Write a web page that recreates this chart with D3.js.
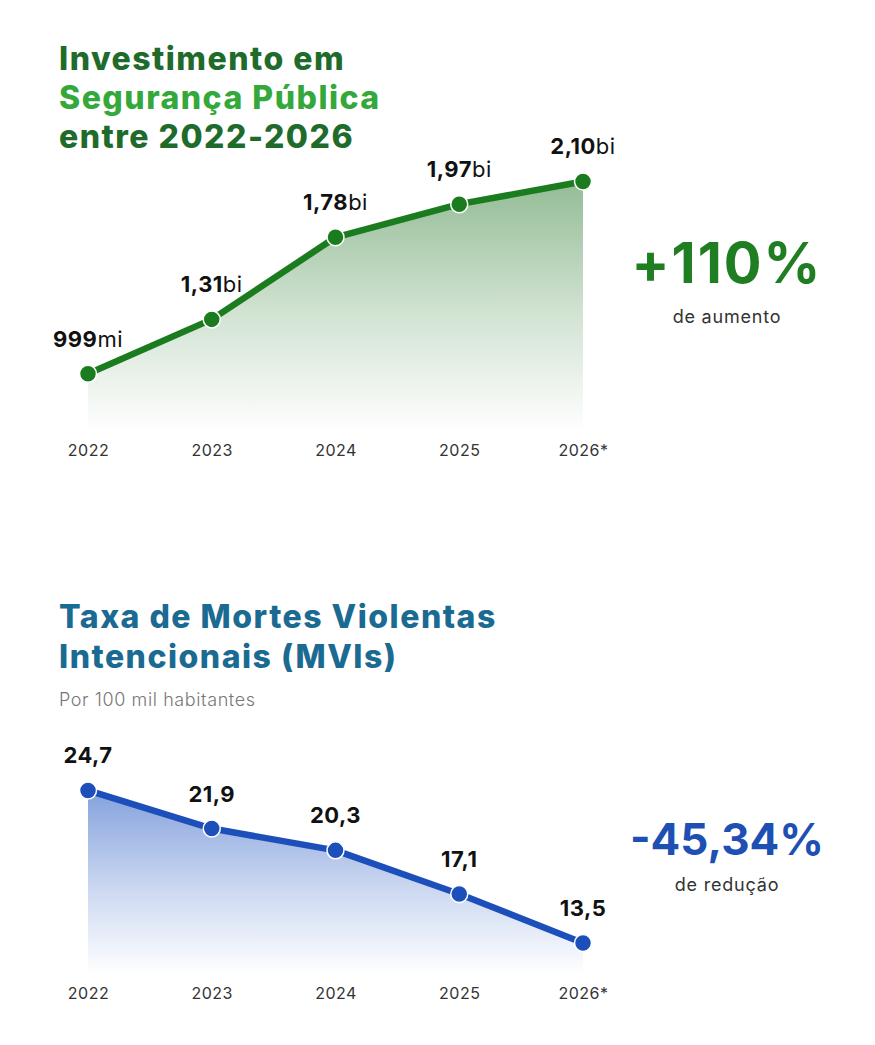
<!DOCTYPE html>
<html>
<head>
  <meta charset="utf-8">
  <title>Segurança Pública</title>
  <style>
    body { margin: 0; background: #fff; }
    svg { display: block; font-family: "Inter", "Noto Sans", sans-serif; }
    .tick text { font-size: 16px; fill: #333; font-weight: 400; letter-spacing: 0.5px; }
    .val { font-size: 22px; fill: #111; letter-spacing: 0.5px; }
    .title { font-size: 32px; font-weight: 800; letter-spacing: 1.5px; }
  </style>
  <script src="https://d3js.org/d3.v7.min.js"></script>
</head>
<body>
  <div id="chart"></div>
  <script>
    const years = ["2022", "2023", "2024", "2025", "2026*"];
    const investimento = [0.999, 1.31, 1.78, 1.97, 2.10];
    const investLabels = [["999", "mi"], ["1,31", "bi"], ["1,78", "bi"], ["1,97", "bi"], ["2,10", "bi"]];
    const mvi = [24.7, 21.9, 20.3, 17.1, 13.5];
    const mviLabels = ["24,7", "21,9", "20,3", "17,1", "13,5"];

    const width = 875;
    const height = 1045;

    const svg = d3.select("#chart")
      .append("svg")
      .attr("width", width)
      .attr("height", height);

    const defs = svg.append("defs");

    const x = d3.scalePoint()
      .domain(years)
      .range([88, 583]);

    function addGradient(id, color, y1, y2) {
      const g = defs.append("linearGradient")
        .attr("id", id)
        .attr("gradientUnits", "userSpaceOnUse")
        .attr("x1", 0).attr("x2", 0)
        .attr("y1", y1).attr("y2", y2);
      g.append("stop").attr("offset", "0%").attr("stop-color", color).attr("stop-opacity", 0.55);
      g.append("stop").attr("offset", "55%").attr("stop-color", color).attr("stop-opacity", 0.22);
      g.append("stop").attr("offset", "100%").attr("stop-color", color).attr("stop-opacity", 0);
    }

    // draws one panel: area + line + dots + value labels + x axis
    function panel(values, yScale, color, gradId, axisY, labelFn) {
      const data = years.map((yr, i) => ({ year: yr, value: values[i], i: i }));
      const bottom = yScale.range()[0];

      const area = d3.area()
        .x(d => x(d.year))
        .y0(bottom)
        .y1(d => yScale(d.value));

      const line = d3.line()
        .x(d => x(d.year))
        .y(d => yScale(d.value));

      const g = svg.append("g");

      g.append("path")
        .datum(data)
        .attr("d", area)
        .attr("fill", `url(#${gradId})`);

      g.append("path")
        .datum(data)
        .attr("d", line)
        .attr("fill", "none")
        .attr("stroke", color)
        .attr("stroke-width", 6.5)
        .attr("stroke-linejoin", "round");

      g.selectAll("circle")
        .data(data)
        .enter()
        .append("circle")
        .attr("cx", d => x(d.year))
        .attr("cy", d => yScale(d.value))
        .attr("r", 8.5)
        .attr("fill", color)
        .attr("stroke", "#fff")
        .attr("stroke-width", 1.5);

      const labels = g.selectAll("text.val")
        .data(data)
        .enter()
        .append("text")
        .attr("class", "val")
        .attr("x", d => x(d.year))
        .attr("y", d => yScale(d.value) - 27)
        .attr("text-anchor", "middle");
      labelFn(labels);

      const axis = d3.axisBottom(x)
        .tickSize(0)
        .tickPadding(0);

      g.append("g")
        .attr("transform", `translate(0,${axisY})`)
        .call(axis)
        .call(a => a.select(".domain").remove())
        .selectAll("text")
        .attr("font-family", "Inter, sans-serif");
    }

    // ---------- top panel ----------
    const title1 = svg.append("text")
      .attr("class", "title")
      .attr("x", 59);
    title1.append("tspan").attr("x", 59).attr("y", 70).attr("fill", "#1f6b2c").text("Investimento em");
    title1.append("tspan").attr("x", 59).attr("y", 109).attr("fill", "#34a83b").text("Segurança Pública");
    title1.append("tspan").attr("x", 59).attr("y", 148).attr("fill", "#1f6b2c").text("entre 2022-2026");

    addGradient("gradGreen", "#2e7d32", 165, 432);

    const yInvest = d3.scaleLinear()
      .domain([0.665, 2.2])
      .range([432, 164]);

    panel(investimento, yInvest, "#1b7c1f", "gradGreen", 445, sel => {
      sel.append("tspan").attr("font-weight", 700).text(d => investLabels[d.i][0]);
      sel.append("tspan").attr("font-weight", 400).text(d => investLabels[d.i][1]);
    });

    svg.append("text")
      .attr("x", 727).attr("y", 283)
      .attr("text-anchor", "middle")
      .attr("font-size", 56)
      .attr("font-weight", 700)
      .attr("letter-spacing", 2)
      .attr("fill", "#1f7d22")
      .text("+110%");

    svg.append("text")
      .attr("x", 727).attr("y", 323)
      .attr("text-anchor", "middle")
      .attr("font-size", 18)
      .attr("letter-spacing", 0.8)
      .attr("fill", "#333")
      .text("de aumento");

    // ---------- bottom panel ----------
    const title2 = svg.append("text")
      .attr("class", "title")
      .attr("x", 59)
      .attr("fill", "#1b6a92");
    title2.append("tspan").attr("x", 59).attr("y", 628).text("Taxa de Mortes Violentas");
    title2.append("tspan").attr("x", 59).attr("y", 668).text("Intencionais (MVIs)");

    svg.append("text")
      .attr("x", 59).attr("y", 706)
      .attr("font-size", 18)
      .attr("font-weight", 300)
      .attr("letter-spacing", 0.6)
      .attr("fill", "#777")
      .text("Por 100 mil habitantes");

    addGradient("gradBlue", "#1f55c0", 790, 975);

    const yMvi = d3.scaleLinear()
      .domain([11.15, 26.2])
      .range([975, 770]);

    panel(mvi, yMvi, "#1c4fba", "gradBlue", 988, sel => {
      sel.attr("font-weight", 700).text(d => mviLabels[d.i]);
    });

    svg.append("text")
      .attr("x", 727).attr("y", 855)
      .attr("text-anchor", "middle")
      .attr("font-size", 44)
      .attr("font-weight", 700)
      .attr("fill", "#1e50b4")
      .text("-45,34%");

    svg.append("text")
      .attr("x", 727).attr("y", 891)
      .attr("text-anchor", "middle")
      .attr("font-size", 18)
      .attr("letter-spacing", 0.8)
      .attr("fill", "#333")
      .text("de redução");
  </script>
</body>
</html>
